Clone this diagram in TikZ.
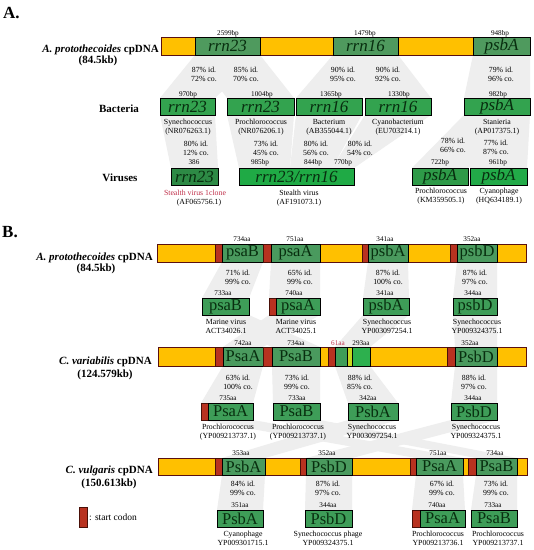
\documentclass[tikz,border=0pt]{standalone}
\usepackage{fontspec}
\setmainfont{Liberation Serif}
\pgfdeclarelayer{bandlayer}
\pgfsetlayers{bandlayer,main}
\definecolor{yel}{HTML}{FFC000}
\definecolor{gA}{HTML}{4F9A5E}
\definecolor{gB}{HTML}{33A34F}
\definecolor{gV1}{HTML}{2D8A45}
\definecolor{gV2}{HTML}{1FAA45}
\definecolor{gV3}{HTML}{2E9A48}
\definecolor{gV4}{HTML}{22AA48}
\definecolor{gD}{HTML}{4A9A5E}
\definecolor{gE}{HTML}{3E9D58}
\definecolor{gF}{HTML}{2DB04E}
\definecolor{lime}{HTML}{C8D820}
\definecolor{gtxt}{HTML}{082E0F}
\definecolor{bardk}{HTML}{5A1010}
\definecolor{cred}{HTML}{B83220}
\definecolor{cdk}{HTML}{4A1008}
\definecolor{bandc}{HTML}{EEEEEE}
\definecolor{redtxt}{HTML}{C0304A}
\newcounter{lc}
\tikzset{
  genebox/.style={draw=black, line width=0.9pt, inner sep=0pt, outer sep=0pt, text=gtxt},
  geneI/.style={font=\fontsize{17}{17}\selectfont\itshape},
  geneU/.style={font=\fontsize{16.5}{17}\selectfont},
  barbox/.style={draw=bardk, line width=0.9pt, fill=yel, inner sep=0pt, outer sep=0pt},
  codonbox/.style={draw=cdk, line width=0.6pt, fill=cred, inner sep=0pt, outer sep=0pt},
  small/.style={font=\fontsize{7.8}{8}\selectfont, inner sep=0pt},
  tiny/.style={font=\fontsize{7.2}{8}\selectfont, inner sep=0pt},
  ttl/.style={font=\fontsize{11}{12}\selectfont\bfseries, inner sep=0pt},
  band/.style={fill=bandc, draw=none}
}
\newcommand\gbox[8]{\node[genebox,fill=#6,#7,minimum width={(#3)-(#2)},minimum height={(#5)-(#4)}] (#1) at ({((#2)+(#3))/2},{((#4)+(#5))/2}) {#8};}
\newcommand\cpbar[5]{\node[barbox,minimum width={(#3)-(#2)},minimum height={(#5)-(#4)}] (#1) at ({((#2)+(#3))/2},{((#4)+(#5))/2}) {};}
\newcommand\cdn[5]{\node[codonbox,minimum width={(#3)-(#2)},minimum height={(#5)-(#4)}] (#1) at ({((#2)+(#3))/2},{((#4)+(#5))/2}) {};}
\newcommand\slab[3]{\stepcounter{lc}\node[small,anchor=base] (L\thelc) at (#1,#2) {#3};}
\newcommand\tlab[3]{\stepcounter{lc}\node[tiny,anchor=base] (L\thelc) at (#1,#2) {#3};}
\newcommand\twol[4]{\slab{#1}{#2}{#3}\slab{#1}{#2+9.5}{#4}}
\newcommand\gband[2]{\fill[band] (#1.south west) -- (#1.south east) -- (#2.north east) -- (#2.north west) -- cycle;}
\begin{document}
\begin{tikzpicture}[x=1pt,y=-1pt]
\useasboundingbox (0,0) rectangle (534,550);
%% ---------------- Part A ----------------
\node[ttl,font=\fontsize{17}{17}\selectfont\bfseries,anchor=base west] (labA) at (3,18) {A.};
\node[ttl,anchor=base east] (tA1) at (159,52) {\itshape A. protothecoides\upshape{} cpDNA};
\node[ttl,anchor=base] (tA2) at (98,63) {(84.5kb)};
\cpbar{barA}{161}{530}{37}{55}
\gbox{a23}{195}{260}{37}{55}{gA}{geneI}{rrn23}
\gbox{a16}{333}{398}{37}{55}{gA}{geneI}{rrn16}
\gbox{apsbA}{473}{530}{37}{55}{gA}{geneI}{psbA}
\tlab{228}{35}{2599bp}
\tlab{365}{35}{1479bp}
\tlab{500}{35}{948bp}
\twol{204}{72}{87\% id.}{72\% co.}
\twol{246}{72}{85\% id.}{70\% co.}
\twol{343}{72}{90\% id.}{95\% co.}
\twol{388}{72}{90\% id.}{92\% co.}
\twol{501}{72}{79\% id.}{96\% co.}
\node[ttl,anchor=base] (tBac) at (119,112) {Bacteria};
\gbox{b1}{160}{215}{98}{115}{gB}{geneI}{rrn23}
\gbox{b2}{227}{294}{98}{115}{gB}{geneI}{rrn23}
\gbox{b3}{296}{362}{98}{115}{gB}{geneI}{rrn16}
\gbox{b4}{365}{431}{98}{115}{gB}{geneI}{rrn16}
\gbox{b5}{464}{530}{98}{115}{gB}{geneI}{psbA}
\tlab{188}{96}{970bp}
\tlab{262}{96}{1004bp}
\tlab{331}{96}{1365bp}
\tlab{399}{96}{1330bp}
\tlab{498}{96}{982bp}
\twol{188}{124}{Synechococcus}{(NR076263.1)}
\twol{261}{124}{Prochlorococcus}{(NR076206.1)}
\twol{329}{124}{Bacterium}{(AB355044.1)}
\twol{398}{124}{Cyanobacterium}{(EU703214.1)}
\twol{497}{124}{Stanieria}{(AP017375.1)}
\twol{196}{146}{80\% id.}{12\% co.}
\twol{266}{146}{73\% id.}{45\% co.}
\twol{316}{146}{80\% id.}{56\% co.}
\twol{360}{146}{80\% id.}{54\% co.}
\twol{453}{143}{78\% id.}{66\% co.}
\twol{496}{145}{77\% id.}{87\% co.}
\node[ttl,anchor=base] (tVir) at (120,181) {Viruses};
\gbox{v1}{171}{218}{168}{185}{gV1}{geneI}{rrn23}
\gbox{v2}{239}{354}{168}{185}{gV2}{geneI}{rrn23/rrn16}
\gbox{v3}{412}{468}{168}{185}{gV3}{geneI}{psbA}
\gbox{v4}{470}{527}{168}{185}{gV4}{geneI}{psbA}
\coordinate (v2m1) at (290,168);
\coordinate (v2m2) at (332,168);
\tlab{194}{164}{386}
\tlab{260}{164}{985bp}
\tlab{313}{164}{844bp}
\tlab{343}{164}{770bp}
\tlab{440}{164}{722bp}
\tlab{498}{164}{961bp}
\stepcounter{lc}\node[small,anchor=base,text=redtxt] (L\thelc) at (195,195) {Stealth virus 1clone};
\slab{199}{204}{(AF065756.1)}
\twol{299}{195}{Stealth virus}{(AF191073.1)}
\twol{441}{193}{Prochlorococcus}{(KM359505.1)}
\twol{499}{193}{Cyanophage}{(HQ634189.1)}
%% ---------------- Part B ----------------
\node[ttl,font=\fontsize{17}{17}\selectfont\bfseries,anchor=base west] (labB) at (2,237) {B.};
% bar 1
\node[ttl,anchor=base east] (tB1) at (153,260) {\itshape A. protothecoides\upshape{} cpDNA};
\node[ttl,anchor=base] (tB2) at (96,271) {(84.5kb)};
\cpbar{bar1}{157}{526}{244}{262}
\cdn{c11}{215}{222}{244}{262}
\gbox{p1psaB}{222}{263}{244}{262}{gD}{geneU}{psaB}
\cdn{c12}{263}{271}{244}{262}
\gbox{p1psaA}{271}{320}{244}{262}{gD}{geneU}{psaA}
\cdn{c13}{362}{368}{244}{262}
\gbox{p1psbA}{368}{408}{244}{262}{gD}{geneU}{psbA}
\cdn{c14}{450}{457}{244}{262}
\gbox{p1psbD}{457}{497}{244}{262}{gD}{geneU}{psbD}
\tlab{242}{241}{734aa}
\tlab{295}{241}{751aa}
\tlab{385}{241}{341aa}
\tlab{472}{241}{352aa}
\twol{238}{275}{71\% id.}{99\% co.}
\twol{300}{275}{65\% id.}{99\% co.}
\twol{388}{275}{87\% id.}{100\% co.}
\twol{475}{275}{87\% id.}{97\% co.}
% row 2
\gbox{r2a}{202}{249}{298}{315}{gE}{geneU}{psaB}
\cdn{r2bc}{269}{276}{298}{315}
\gbox{r2b}{276}{320}{298}{315}{gE}{geneU}{psaA}
\gbox{r2c}{363}{409}{298}{315}{gE}{geneU}{psbA}
\gbox{r2d}{453}{497}{298}{315}{gE}{geneU}{psbD}
\tlab{223}{295}{733aa}
\tlab{294}{295}{740aa}
\tlab{385}{295}{341aa}
\tlab{473}{295}{344aa}
\twol{226}{324}{Marine virus}{ACT34026.1}
\twol{296}{324}{Marine virus}{ACT34025.1}
\twol{387}{324}{Synechococcus}{YP003097254.1}
\twol{477}{324}{Synechococcus}{YP009324375.1}
% bar 2
\node[ttl,anchor=base east] (tC1) at (152,364) {\itshape C. variabilis\upshape{} cpDNA};
\node[ttl,anchor=base] (tC2) at (105,377) {(124.579kb)};
\cpbar{bar2}{158}{526}{347}{366}
\cdn{c21}{215}{223}{347}{366}
\gbox{cvPsaA}{223}{263}{347}{366}{gD}{geneU}{PsaA}
\cdn{c22}{263}{272}{347}{366}
\gbox{cvPsaB}{272}{320}{347}{366}{gD}{geneU}{PsaB}
\cdn{c23}{328}{335}{347}{366}
\gbox{cv61}{335}{347}{347}{366}{gE}{geneU}{}
\gbox{cvlime}{347}{352}{347}{366}{lime}{geneU}{}
\gbox{cv293}{352}{370}{347}{366}{gF}{geneU}{}
\cdn{c24}{447}{455}{347}{366}
\gbox{cvPsbD}{455}{497}{347}{366}{gD}{geneU}{PsbD}
\tlab{243}{345}{742aa}
\tlab{296}{345}{734aa}
\stepcounter{lc}\node[tiny,anchor=base,text=redtxt] (L\thelc) at (338,345) {61aa};
\tlab{361}{345}{293aa}
\tlab{470}{345}{352aa}
\twol{238}{380}{63\% id.}{100\% co.}
\twol{297}{380}{73\% id.}{99\% co.}
\twol{360}{380}{88\% id.}{85\% co.}
\twol{474}{380}{88\% id.}{97\% co.}
% row 4
\cdn{r4ac}{201}{208}{403}{420}
\gbox{r4a}{208}{253}{403}{420}{gE}{geneU}{PsaA}
\gbox{r4b}{273}{320}{403}{420}{gE}{geneU}{PsaB}
\gbox{r4c}{348}{398}{403}{420}{gE}{geneU}{PsbA}
\gbox{r4d}{451}{497}{403}{420}{gE}{geneU}{PsbD}
\tlab{228}{400}{735aa}
\tlab{297}{400}{733aa}
\tlab{368}{400}{342aa}
\tlab{473}{400}{344aa}
\twol{228}{429}{Prochlorococcus}{(YP009213737.1)}
\twol{298}{429}{Prochlorococcus}{(YP009213737.1)}
\twol{372}{429}{Synechococcus}{YP003097254.1}
\twol{476}{429}{Synechococcus}{YP009324375.1}
% bar 3
\node[ttl,anchor=base east] (tD1) at (153,473) {\itshape C. vulgaris\upshape{} cpDNA};
\node[ttl,anchor=base] (tD2) at (109,486) {(150.613kb)};
\cpbar{bar3}{158}{527}{458}{475}
\cdn{c31}{215}{222}{458}{475}
\gbox{vgPsbA}{222}{265}{458}{475}{gD}{geneU}{PsbA}
\cdn{c32}{300}{306}{458}{475}
\gbox{vgPsbD}{306}{352}{458}{475}{gD}{geneU}{PsbD}
\cdn{c33}{410}{416}{458}{475}
\gbox{vgPsaA}{416}{463}{458}{475}{gD}{geneU}{PsaA}
\cdn{c34}{468}{476}{458}{475}
\gbox{vgPsaB}{476}{517}{458}{475}{gD}{geneU}{PsaB}
\tlab{241}{455}{353aa}
\tlab{327}{455}{352aa}
\tlab{438}{455}{751aa}
\tlab{495}{455}{734aa}
\twol{243}{486}{84\% id.}{99\% co.}
\twol{328}{486}{87\% id.}{97\% co.}
\twol{442}{486}{67\% id.}{99\% co.}
\twol{496}{486}{73\% id.}{99\% co.}
% row 6
\gbox{r6a}{217}{263}{510}{527}{gE}{geneU}{PsbA}
\gbox{r6b}{305}{352}{510}{527}{gE}{geneU}{PsbD}
\cdn{r6cc}{412}{420}{510}{527}
\gbox{r6c}{420}{465}{510}{527}{gE}{geneU}{PsaA}
\gbox{r6d}{471}{517}{510}{527}{gE}{geneU}{PsaB}
\tlab{240}{507}{351aa}
\tlab{328}{507}{344aa}
\tlab{437}{507}{740aa}
\tlab{493}{507}{733aa}
\twol{243}{536}{Cyanophage}{YP009301715.1}
\twol{328}{536}{Synechococcus phage}{YP009324375.1}
\twol{438}{536}{Prochlorococcus}{YP009213736.1}
\twol{498}{536}{Prochlorococcus}{YP009213737.1}
% legend
\cdn{legc}{79}{87}{507}{527}
\node[font=\fontsize{9.5}{10}\selectfont,anchor=west,inner sep=0pt] (legt) at (89,517) {: start codon};
%% ---------------- bands ----------------
\begin{pgfonlayer}{bandlayer}
\fill[white] (0,0) rectangle (534,550);
\gband{a23}{b1}
\gband{a23}{b2}
\gband{a16}{b3}
\gband{a16}{b4}
\gband{apsbA}{b5}
\gband{b1}{v1}
\fill[band] (b2.south west) -- (b2.south east) -- (v2m1) -- (v2.north west) -- cycle;
\fill[band] (b3.south west) -- (b3.south east) -- (v2m2) -- (v2m1) -- cycle;
\fill[band] (b4.south west) -- (b4.south east) -- (v2.north east) -- (v2m2) -- cycle;
\gband{b5}{v3}
\gband{b5}{v4}
\gband{p1psaB}{r2a}
\fill[band] (p1psaA.south west) -- (p1psaA.south east) -- (r2b.north east) -- (r2bc.north west) -- cycle;
\gband{p1psbA}{r2c}
\gband{p1psbD}{r2d}
\gband{r2a}{cvPsaB}
\fill[band] (r2bc.south west) -- (r2b.south east) -- (cvPsaA.north east) -- (cvPsaA.north west) -- cycle;
\fill[band] (r2c.south west) -- (r2c.south east) -- (cv293.north east) -- (cv61.north west) -- cycle;
\gband{r2d}{cvPsbD}
\fill[band] (cvPsaA.south west) -- (cvPsaA.south east) -- (r4a.north east) -- (r4ac.north west) -- cycle;
\gband{cvPsaB}{r4b}
\fill[band] (cv61.south west) -- (cv293.south east) -- (r4c.north east) -- (r4c.north west) -- cycle;
\gband{cvPsbD}{r4d}
\fill[band] (r4ac.south west) -- (r4a.south east) -- (vgPsaA.north east) -- (vgPsaA.north west) -- cycle;
\gband{r4b}{vgPsaB}
\gband{r4c}{vgPsbA}
\gband{r4d}{vgPsbD}
\gband{vgPsbA}{r6a}
\gband{vgPsbD}{r6b}
\fill[band] (vgPsaA.south west) -- (vgPsaA.south east) -- (r6c.north east) -- (r6cc.north west) -- cycle;
\gband{vgPsaB}{r6d}
\end{pgfonlayer}
\end{tikzpicture}
\end{document}
